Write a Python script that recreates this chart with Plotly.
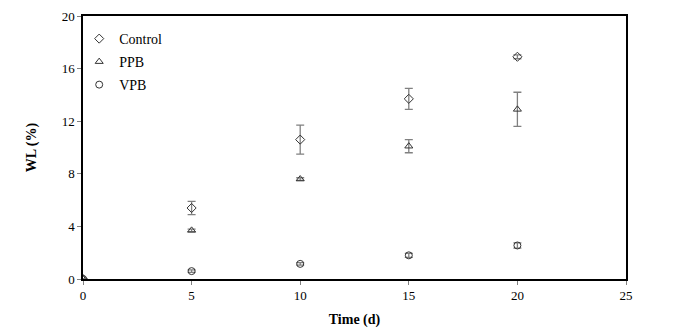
import plotly.graph_objects as go

time_d = [0, 5, 10, 15, 20]
control = [0, 5.4, 10.6, 13.7, 16.9]
control_err = [0, 0.5, 1.1, 0.8, 0.15]
ppb = [0, 3.7, 7.6, 10.1, 12.9]
ppb_err = [0, 0.1, 0.1, 0.5, 1.3]
vpb = [0, 0.6, 1.15, 1.8, 2.55]
vpb_err = [0, 0.1, 0.1, 0.15, 0.2]

x_ticks = [0, 5, 10, 15, 20, 25]
y_ticks = [0, 4, 8, 12, 16, 20]

series = [
    ("Control", control, control_err, "diamond-open", "legend", 0.9125),
    ("PPB", ppb, ppb_err, "triangle-up-open", "legend2", 0.825),
    ("VPB", vpb, vpb_err, "circle-open", "legend3", 0.7376),
]

font_family = "Liberation Serif"
fig = go.Figure()
legend_layout = {}
for name, vals, errs, sym, leg, ly in series:
    fig.add_trace(go.Scatter(
        x=time_d, y=vals, name=name, mode="markers", legend=leg,
        marker=dict(symbol=sym, size=7, color="#333333", line=dict(width=1, color="#333333")),
        error_y=dict(type="data", array=errs, visible=True, color="#808080", thickness=1.3, width=4),
    ))
    legend_layout[leg] = dict(x=-0.007, y=ly, xanchor="left", yanchor="middle",
                              bgcolor="rgba(0,0,0,0)",
                              font=dict(family=font_family, size=14, color="black"),
                              itemwidth=30)

fig.update_layout(
    width=681, height=323,
    margin=dict(l=75, r=63, t=8, b=52),
    paper_bgcolor="white", plot_bgcolor="white",
    font=dict(family=font_family, size=13, color="black"),
    showlegend=True,
    xaxis=dict(range=[0, 25], tickvals=x_ticks, showgrid=False, zeroline=False,
               showline=True, linecolor="black", linewidth=1.5, mirror=True,
               ticks="outside", ticklen=4, tickcolor="#808080", tickwidth=1.2,
               automargin=False,
               tickfont=dict(family=font_family, size=13),
               title=dict(text="<b>Time (d)</b>", font=dict(family=font_family, size=14), standoff=12)),
    yaxis=dict(range=[0, 20], tickvals=y_ticks, showgrid=False, zeroline=False,
               showline=True, linecolor="black", linewidth=1.5, mirror=True,
               ticks="outside", ticklen=4, tickcolor="#808080", tickwidth=1.2,
               automargin=False,
               tickfont=dict(family=font_family, size=13),
               title=dict(text="<b>WL (%)</b>", font=dict(family=font_family, size=14), standoff=22)),
    **legend_layout,
)
fig.write_html("out.html")
